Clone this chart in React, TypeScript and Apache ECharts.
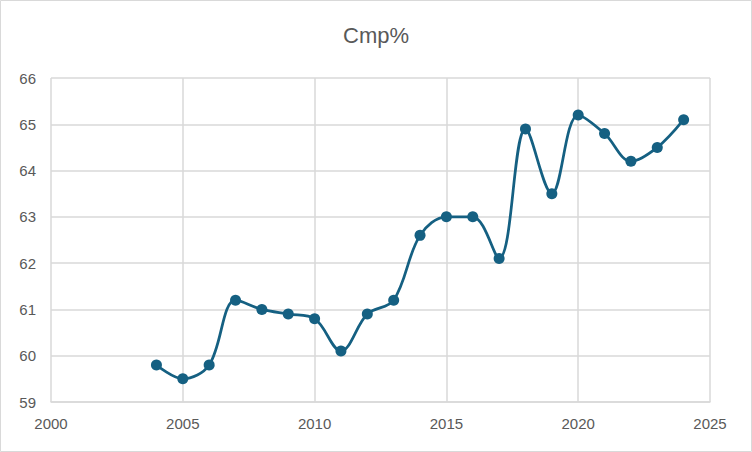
import React, { useEffect, useRef } from "react";
import * as echarts from "echarts";

const years = [2004, 2005, 2006, 2007, 2008, 2009, 2010, 2011, 2012, 2013, 2014, 2015, 2016, 2017, 2018, 2019, 2020, 2021, 2022, 2023, 2024];
const cmpValues = [59.8, 59.5, 59.8, 61.2, 61.0, 60.9, 60.8, 60.1, 60.9, 61.2, 62.6, 63.0, 63.0, 62.1, 64.9, 63.5, 65.2, 64.8, 64.2, 64.5, 65.1];
const titleText = "Cmp%";

export default function App() {
  const ref = useRef<HTMLDivElement>(null);
  useEffect(() => {
    document.body.style.margin = "0";
    const chart = echarts.init(ref.current!, null, { renderer: "svg" });
    const font = "'Liberation Sans', Arial, sans-serif";
    chart.setOption({
      animation: false,
      backgroundColor: "#ffffff",
      title: {
        text: titleText,
        left: "center",
        top: 19,
        textStyle: { fontFamily: font, fontSize: 22, fontWeight: "normal", color: "#595959" },
      },
      graphic: [
        {
          type: "rect",
          shape: { x: 0.5, y: 0.5, width: 751, height: 451 },
          style: { fill: "none", stroke: "#d9d9d9", lineWidth: 1 },
          silent: true,
        },
      ],
      grid: { left: 51, right: 42, top: 78, bottom: 50, containLabel: false },
      xAxis: {
        type: "value",
        min: 2000,
        max: 2025,
        interval: 5,
        axisLine: { show: true, lineStyle: { color: "#d9d9d9", width: 1.5 } },
        axisTick: { show: false },
        splitLine: { show: true, lineStyle: { color: "#d9d9d9", width: 1.5 } },
        axisLabel: { color: "#595959", fontFamily: font, fontSize: 15, margin: 14, formatter: (v: number) => String(v) },
      },
      yAxis: {
        type: "value",
        min: 59,
        max: 66,
        interval: 1,
        axisLine: { show: false },
        axisTick: { show: false },
        splitLine: { show: true, lineStyle: { color: "#d9d9d9", width: 1.5 } },
        axisLabel: { color: "#595959", fontFamily: font, fontSize: 15, margin: 15 },
      },
      series: [
        {
          type: "line",
          data: years.map((y, i) => [y, cmpValues[i]]),
          smooth: 0.35,
          symbol: "circle",
          symbolSize: 11,
          lineStyle: { color: "#156082", width: 2.75 },
          itemStyle: { color: "#156082" },
        },
      ],
    });
    return () => chart.dispose();
  }, []);
  return <div ref={ref} style={{ width: 752, height: 452 }} />;
}
